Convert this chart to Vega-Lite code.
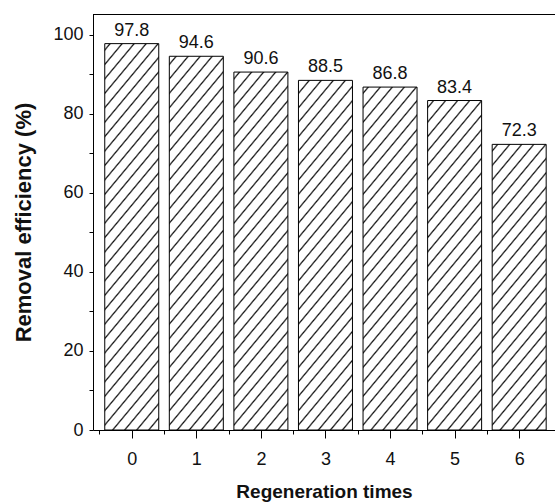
{
  "$schema": "https://vega.github.io/schema/vega-lite/v6.json",
  "width": 462,
  "height": 416,
  "autosize": {"type": "none"},
  "padding": {"left": 93, "top": 14, "right": 0, "bottom": 72},
  "background": "white",
  "config": {
    "view": {"stroke": null},
    "font": "Liberation Sans",
    "axis": {
      "grid": false,
      "domainColor": "black",
      "tickColor": "black",
      "labelColor": "#111",
      "titleColor": "#111",
      "labelFont": "Liberation Sans",
      "titleFont": "Liberation Sans",
      "labelFontSize": 18,
      "titleFontSize": 19,
      "titleFontWeight": "bold",
      "zindex": 1
    }
  },
  "data": {
    "values": [
      {"t": 0, "v": 97.8},
      {"t": 1, "v": 94.6},
      {"t": 2, "v": 90.6},
      {"t": 3, "v": 88.5},
      {"t": 4, "v": 86.8},
      {"t": 5, "v": 83.4},
      {"t": 6, "v": 72.3}
    ]
  },
  "encoding": {
    "x": {
      "field": "t",
      "type": "quantitative",
      "scale": {"domain": [-0.52273, 6.47727], "nice": false, "zero": false},
      "axis": {
        "values": [-0.5, 0, 0.5, 1, 1.5, 2, 2.5, 3, 3.5, 4, 4.5, 5, 5.5, 6],
        "labelExpr": "datum.value % 1 ? '' : datum.label",
        "format": ".0f",
        "tickSize": 8,
        "tickDash": {"condition": {"test": "datum.value % 1 !== 0", "value": [4, 20]}, "value": [20, 0]},
        "labelPadding": 12,
        "labelFlush": false,
        "labelOverlap": false,
        "title": "Regeneration times",
        "titleY": 67,
        "titleBaseline": "alphabetic"
      }
    }
  },
  "layer": [
    {
      "mark": {
        "type": "bar",
        "width": 54,
        "stroke": null,
        "clip": true,
        "fill": {
          "gradient": "linear",
          "x1": 0, "y1": 0, "x2": 0.17577, "y2": 1.12839,
          "stops": [
            {"offset": 0.011, "color": "#fff"}, {"offset": 0.015, "color": "#111"}, {"offset": 0.019, "color": "#fff"},
            {"offset": 0.041, "color": "#fff"}, {"offset": 0.045, "color": "#111"}, {"offset": 0.049, "color": "#fff"},
            {"offset": 0.071, "color": "#fff"}, {"offset": 0.075, "color": "#111"}, {"offset": 0.079, "color": "#fff"},
            {"offset": 0.101, "color": "#fff"}, {"offset": 0.105, "color": "#111"}, {"offset": 0.109, "color": "#fff"},
            {"offset": 0.131, "color": "#fff"}, {"offset": 0.135, "color": "#111"}, {"offset": 0.139, "color": "#fff"},
            {"offset": 0.161, "color": "#fff"}, {"offset": 0.165, "color": "#111"}, {"offset": 0.169, "color": "#fff"},
            {"offset": 0.191, "color": "#fff"}, {"offset": 0.195, "color": "#111"}, {"offset": 0.199, "color": "#fff"},
            {"offset": 0.221, "color": "#fff"}, {"offset": 0.225, "color": "#111"}, {"offset": 0.229, "color": "#fff"},
            {"offset": 0.251, "color": "#fff"}, {"offset": 0.255, "color": "#111"}, {"offset": 0.259, "color": "#fff"},
            {"offset": 0.281, "color": "#fff"}, {"offset": 0.285, "color": "#111"}, {"offset": 0.289, "color": "#fff"},
            {"offset": 0.311, "color": "#fff"}, {"offset": 0.315, "color": "#111"}, {"offset": 0.319, "color": "#fff"},
            {"offset": 0.341, "color": "#fff"}, {"offset": 0.345, "color": "#111"}, {"offset": 0.349, "color": "#fff"},
            {"offset": 0.371, "color": "#fff"}, {"offset": 0.375, "color": "#111"}, {"offset": 0.379, "color": "#fff"},
            {"offset": 0.401, "color": "#fff"}, {"offset": 0.405, "color": "#111"}, {"offset": 0.409, "color": "#fff"},
            {"offset": 0.431, "color": "#fff"}, {"offset": 0.435, "color": "#111"}, {"offset": 0.439, "color": "#fff"},
            {"offset": 0.461, "color": "#fff"}, {"offset": 0.465, "color": "#111"}, {"offset": 0.469, "color": "#fff"},
            {"offset": 0.491, "color": "#fff"}, {"offset": 0.495, "color": "#111"}, {"offset": 0.499, "color": "#fff"},
            {"offset": 0.521, "color": "#fff"}, {"offset": 0.525, "color": "#111"}, {"offset": 0.529, "color": "#fff"},
            {"offset": 0.551, "color": "#fff"}, {"offset": 0.555, "color": "#111"}, {"offset": 0.559, "color": "#fff"},
            {"offset": 0.581, "color": "#fff"}, {"offset": 0.585, "color": "#111"}, {"offset": 0.589, "color": "#fff"},
            {"offset": 0.611, "color": "#fff"}, {"offset": 0.615, "color": "#111"}, {"offset": 0.619, "color": "#fff"},
            {"offset": 0.641, "color": "#fff"}, {"offset": 0.645, "color": "#111"}, {"offset": 0.649, "color": "#fff"},
            {"offset": 0.671, "color": "#fff"}, {"offset": 0.675, "color": "#111"}, {"offset": 0.679, "color": "#fff"},
            {"offset": 0.701, "color": "#fff"}, {"offset": 0.705, "color": "#111"}, {"offset": 0.709, "color": "#fff"},
            {"offset": 0.731, "color": "#fff"}, {"offset": 0.735, "color": "#111"}, {"offset": 0.739, "color": "#fff"},
            {"offset": 0.761, "color": "#fff"}, {"offset": 0.765, "color": "#111"}, {"offset": 0.769, "color": "#fff"},
            {"offset": 0.791, "color": "#fff"}, {"offset": 0.795, "color": "#111"}, {"offset": 0.799, "color": "#fff"},
            {"offset": 0.821, "color": "#fff"}, {"offset": 0.825, "color": "#111"}, {"offset": 0.829, "color": "#fff"},
            {"offset": 0.851, "color": "#fff"}, {"offset": 0.855, "color": "#111"}, {"offset": 0.859, "color": "#fff"},
            {"offset": 0.881, "color": "#fff"}, {"offset": 0.885, "color": "#111"}, {"offset": 0.889, "color": "#fff"},
            {"offset": 0.911, "color": "#fff"}, {"offset": 0.915, "color": "#111"}, {"offset": 0.919, "color": "#fff"},
            {"offset": 0.941, "color": "#fff"}, {"offset": 0.945, "color": "#111"}, {"offset": 0.949, "color": "#fff"},
            {"offset": 0.971, "color": "#fff"}, {"offset": 0.975, "color": "#111"}, {"offset": 0.979, "color": "#fff"}
          ]
        }
      },
      "encoding": {
        "y": {
          "datum": 105.3,
          "type": "quantitative",
          "scale": {"domain": [0, 105.3], "nice": false},
          "axis": {
            "values": [0, 10, 20, 30, 40, 50, 60, 70, 80, 90, 100],
            "labelExpr": "datum.value % 20 === 0 ? '' + datum.value : ''",
            "tickSize": 4,
            "labelPadding": 6,
            "labelOverlap": false,
            "title": "Removal efficiency (%)",
            "titleFontSize": 22,
            "titleAngle": 270,
            "titleX": -63,
            "titleY": 208,
            "titleBaseline": "alphabetic"
          }
        },
        "y2": {"datum": 0}
      }
    },
    {
      "mark": {"type": "bar", "width": 56, "fill": "white", "stroke": null, "clip": true},
      "encoding": {
        "y": {"field": "v", "type": "quantitative"},
        "y2": {"datum": 105.3}
      }
    },
    {
      "mark": {"type": "bar", "width": 54, "filled": false, "stroke": "black", "strokeWidth": 1},
      "encoding": {
        "y": {"field": "v", "type": "quantitative"}
      }
    },
    {
      "mark": {"type": "text", "dy": -8, "baseline": "alphabetic", "fontSize": 18, "color": "#111", "font": "Liberation Sans"},
      "encoding": {
        "y": {"field": "v", "type": "quantitative"},
        "text": {"field": "v", "type": "quantitative", "format": ".1f"}
      }
    },
    {
      "data": {"values": [{}]},
      "mark": {"type": "rule", "color": "black", "strokeWidth": 1, "yOffset": 0.5},
      "encoding": {"x": null, "y": {"datum": 105.3}}
    }
  ]
}
